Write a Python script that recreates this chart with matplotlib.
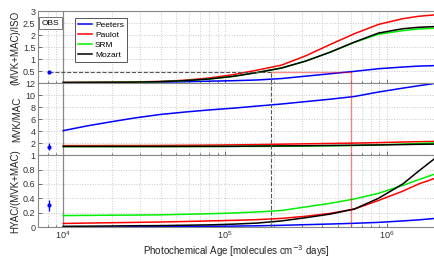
import matplotlib
matplotlib.use("Agg")
import matplotlib.pyplot as plt
import numpy as np

# photochemical age grid (molecules cm-3 days)
age = [1.0e4, 1.41e4, 2.0e4, 2.82e4, 3.98e4, 5.62e4, 7.94e4, 1.12e5, 1.58e5,
       2.24e5, 3.16e5, 4.47e5, 6.31e5, 8.91e5, 1.26e6, 1.58e6, 2.0e6]

# (MVK+MAC)/ISO
ratio1 = {
    "Peeters": [0.03, 0.035, 0.04, 0.045, 0.05, 0.065, 0.09, 0.11, 0.14, 0.2, 0.3,
                0.4, 0.5, 0.61, 0.68, 0.72, 0.74],
    "Paulot": [0.04, 0.045, 0.05, 0.06, 0.08, 0.13, 0.22, 0.36, 0.55, 0.76, 1.15,
               1.62, 2.07, 2.46, 2.7, 2.8, 2.86],
    "SRM": [0.03, 0.035, 0.04, 0.05, 0.07, 0.11, 0.18, 0.29, 0.45, 0.64, 0.93,
            1.3, 1.71, 2.05, 2.2, 2.27, 2.3],
    "Mozart": [0.03, 0.035, 0.04, 0.05, 0.07, 0.11, 0.18, 0.29, 0.45, 0.64, 0.93,
               1.3, 1.72, 2.1, 2.28, 2.34, 2.37],
}
# MVK/MAC
ratio2 = {
    "Peeters": [4.1, 4.9, 5.6, 6.25, 6.8, 7.2, 7.55, 7.85, 8.2, 8.55, 8.95, 9.35,
                9.8, 10.55, 11.2, 11.6, 12.0],
    "Paulot": [1.6, 1.6, 1.61, 1.61, 1.62, 1.65, 1.68, 1.72, 1.77, 1.84, 1.9, 1.96,
               2.02, 2.1, 2.2, 2.26, 2.3],
    "SRM": [1.45, 1.45, 1.45, 1.45, 1.45, 1.45, 1.46, 1.46, 1.47, 1.5, 1.53, 1.57,
            1.62, 1.72, 1.85, 1.96, 2.05],
    "Mozart": [1.45, 1.45, 1.45, 1.45, 1.45, 1.46, 1.47, 1.48, 1.52, 1.55, 1.58,
               1.62, 1.66, 1.71, 1.77, 1.82, 1.85],
}
# HYAC/(MVK+MAC)
ratio3 = {
    "Peeters": [0.0, 0.0, 0.0, 0.003, 0.005, 0.008, 0.01, 0.013, 0.017, 0.024, 0.033,
                0.042, 0.052, 0.065, 0.085, 0.1, 0.12],
    "Paulot": [0.05, 0.055, 0.06, 0.065, 0.07, 0.077, 0.085, 0.093, 0.103, 0.12, 0.15,
               0.19, 0.25, 0.37, 0.5, 0.6, 0.68],
    "SRM": [0.16, 0.162, 0.165, 0.167, 0.17, 0.177, 0.185, 0.195, 0.21, 0.23, 0.28,
            0.33, 0.39, 0.47, 0.58, 0.66, 0.74],
    "Mozart": [0.01, 0.012, 0.015, 0.018, 0.02, 0.025, 0.03, 0.04, 0.055, 0.085, 0.13,
               0.18, 0.25, 0.4, 0.6, 0.78, 0.96],
}
colors = {"Peeters": "#0000ff", "Paulot": "#ff0000", "SRM": "#00ee00", "Mozart": "#000000"}

# observations (value, error)
obs_x = 8.2e3
obs = [(0.48, 0.04), (1.4, 0.6), (0.30, 0.08)]
age_gray = 1.94e5   # age where Mozart/SRM match obs
age_red = 6.0e5     # age where Peeters matches obs

ylabels = ["(MVK+MAC)/ISO", "MVK/MAC", "HYAC/(MVK+MAC)"]
ylims = [(0, 3), (0, 12), (0, 1)]
yticks = [np.arange(0, 3.01, 0.5), np.arange(0, 12.1, 2), np.arange(0, 1.01, 0.2)]
yticklabels = [["", "0.5", "1", "1.5", "2", "2.5", "3"],
               ["", "2", "4", "6", "8", "10", "12"],
               ["0", "0.2", "0.4", "0.6", "0.8", "1"]]

plt.rcParams["font.family"] = "Liberation Sans"
fig = plt.figure(figsize=(4.34, 2.58), dpi=100)
left, width, h = 0.088, 0.915, 0.2785
bottoms = [0.677, 0.3985, 0.12]
axes = []
for i, data in enumerate([ratio1, ratio2, ratio3]):
    ax = fig.add_axes([left, bottoms[i], width, h])
    axes.append(ax)
    ax.set_xscale("log")
    ax.set_xlim(7e3, 2e6)
    ax.set_ylim(*ylims[i])
    ax.set_yticks(yticks[i])
    ax.set_yticklabels(yticklabels[i])
    ax.grid(True, which="both", axis="x", linestyle=":", color="#c8c8c8", linewidth=0.7)
    ax.grid(True, which="major", axis="y", linestyle=":", color="#c8c8c8", linewidth=0.7)
    ax.tick_params(which="both", direction="in", labelsize=6.5, colors="#555555",
                   labelcolor="#333333", length=3, width=0.6, pad=2)
    ax.tick_params(which="minor", length=1.8)
    for s in ax.spines.values():
        s.set_color("#888888")
        s.set_linewidth(0.8)
    ax.axvline(1e4, color="#888888", linewidth=0.9)
    for name, vals in data.items():
        ax.plot(age, vals, color=colors[name], linewidth=1.1, label=name)
    ax.errorbar([obs_x], [obs[i][0]], yerr=[obs[i][1]], fmt="o", color="#0000ff",
                markersize=2, elinewidth=0.9, capsize=0)
    ax.set_ylabel(ylabels[i], fontsize=7, color="#222222", labelpad=2)
    if i < 2:
        ax.tick_params(axis="x", which="both", labelbottom=False)

# obs match lines
ax1 = axes[0]
ax1.plot([obs_x, age_gray], [obs[0][0], obs[0][0]], "--", color="#555555", linewidth=0.8)
ax1.plot([age_gray, age_red], [obs[0][0], obs[0][0]], "-", color="#ff0000", alpha=0.45,
         linewidth=1.0)
ax1.plot([age_gray, age_gray], [0, obs[0][0]], "--", color="#555555", linewidth=0.8)
ax1.plot([age_red, age_red], [0, obs[0][0]], "-", color="#ff0000", alpha=0.45, linewidth=1.0)
for ax in axes[1:]:
    ax.axvline(age_gray, linestyle="--", color="#555555", linewidth=0.8)
    ax.axvline(age_red, color="#ff0000", alpha=0.45, linewidth=1.0)

leg = ax1.legend(loc="upper left", bbox_to_anchor=(0.083, 0.965), fontsize=6.0,
                 handlelength=1.6, handletextpad=0.4, labelspacing=0.25,
                 borderpad=0.35, fancybox=False, framealpha=1)
leg.get_frame().set_edgecolor("#555555")
leg.get_frame().set_linewidth(0.7)
ax1.text(0.031, 0.835, "OBS", transform=ax1.transAxes, fontsize=6.0, ha="center",
         va="center", bbox=dict(boxstyle="square,pad=0.3", fc="white", ec="#777777", lw=0.7))

axes[2].tick_params(axis="x", which="both", pad=1.5)
axes[2].set_xlabel("Photochemical Age [molecules cm$^{-3}$ days]", fontsize=7,
                   color="#222222", labelpad=2)

plt.savefig("out.png", dpi=100)
